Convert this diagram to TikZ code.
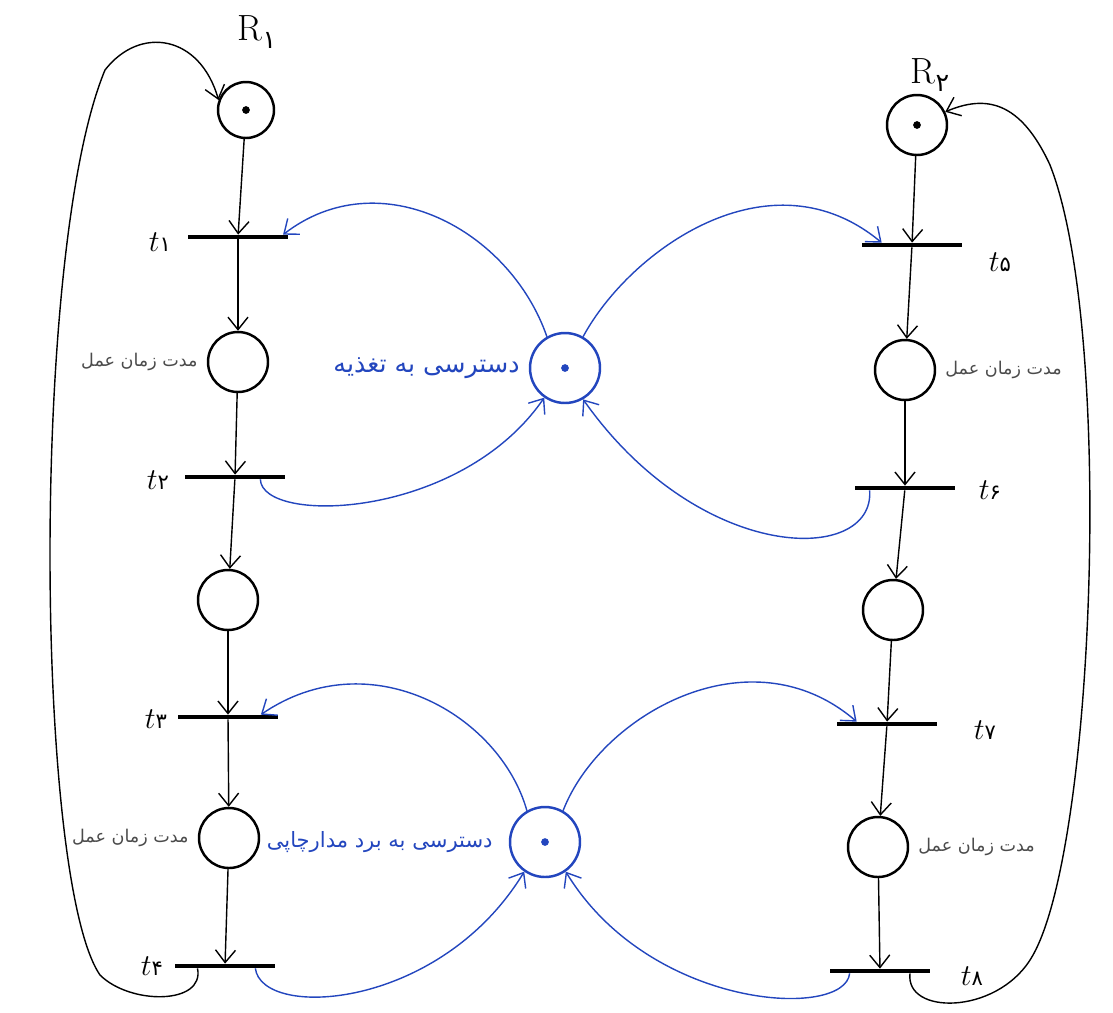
\documentclass[tikz,border=0pt]{standalone}
\usepackage{fontspec}
\newfontfamily\farsi[Script=Arabic]{DejaVu Sans}
\TeXXeTstate=1
\usetikzlibrary{arrows.meta,positioning}
\definecolor{penblue}{RGB}{35,70,190}
\definecolor{pencil}{RGB}{75,75,75}
\tikzset{
  place/.style={draw, circle, line width=1.4pt, minimum size=1.2cm, inner sep=0},
  res/.style={place, draw=penblue, minimum size=1.4cm},
  trans/.style={fill=black, rectangle, minimum width=2cm, minimum height=0.8mm, inner sep=0},
  arc/.style={-{Straight Barb[length=2.5mm,width=4mm]}, line width=0.8pt},
  barc/.style={arc, draw=penblue},
  dur/.style={text=pencil, font={\farsi\normalsize}, inner sep=1pt},
  need/.style={text=penblue, font={\farsi\Large}, inner sep=1pt},
}
\newcommand{\tname}[1]{{\LARGE$t$}{\large\farsi #1}}
\begin{document}
\begin{tikzpicture}[x=0.02cm, y=-0.02cm]
\useasboundingbox (0,0) rectangle (1113,1012);

\node[place, minimum size=1.12cm] (r1) at (246,110) {};
\node[trans] (t1) at (238,237) {};
\node[place] (p2) at (238,362) {};
\node[trans] (t2) at (235,477) {};
\node[place] (p3) at (228,600) {};
\node[trans] (t3) at (228,717) {};
\node[place] (p4) at (229,838) {};
\node[trans] (t4) at (225,966) {};

\node[place] (r2) at (917,125) {};
\node[trans] (t5) at (912,245) {};
\node[place] (p6) at (905,370) {};
\node[trans] (t6) at (905,488) {};
\node[place] (p7) at (893,610) {};
\node[trans] (t7) at (887,724) {};
\node[place] (p8) at (878,847) {};
\node[trans] (t8) at (880,971) {};

\node[res] (s1) at (565,368) {};
\node[res] (s2) at (545,842) {};

\fill (r1) circle (2.2pt);
\fill (r2) circle (2.2pt);
\fill[penblue] (s1) circle (2.2pt);
\fill[penblue] (s2) circle (2.2pt);

\node (lr1) at (257,32) {\huge R\raisebox{-0.5ex}{\Large\farsi ۱}};
\node (lr2) at (930,75) {\huge R\raisebox{-0.5ex}{\Large\farsi ۲}};

\node (l1) at (160,242) {\tname{۱}};
\node (l2) at (158,480) {\tname{۲}};
\node (l3) at (156,719) {\tname{۳}};
\node (l4) at (152,966) {\tname{۴}};
\node (l5) at (1000,262) {\tname{۵}};
\node (l6) at (990,490) {\tname{۶}};
\node (l7) at (985,730) {\tname{۷}};
\node (l8) at (972,976) {\tname{۸}};

\node[dur, left=4pt of p2] (d2) {\beginR مدت زمان عمل\endR};
\node[dur, left=4pt of p4] (d4) {\beginR مدت زمان عمل\endR};
\node[dur, right=4pt of p6] (d6) {\beginR مدت زمان عمل\endR};
\node[dur, right=4pt of p8] (d8) {\beginR مدت زمان عمل\endR};

\node[need, left=4pt of s1] (n1) {\beginR دسترسی به تغذیه\endR};
\node[need, font={\farsi\large}, left=8pt of s2] (n2) {\beginR دسترسی به برد مدارچاپی\endR};

\draw[arc] (r1) -- (t1);
\draw[arc] (t1) -- (p2);
\draw[arc] (p2) -- (t2);
\draw[arc] (t2) -- (p3);
\draw[arc] (p3) -- (t3);
\draw[arc] (t3) -- (p4);
\draw[arc] (p4) -- (t4);
\draw[arc] (r2) -- (t5);
\draw[arc] (t5) -- (p6);
\draw[arc] (p6) -- (t6);
\draw[arc] (t6) -- (p7);
\draw[arc] (p7) -- (t7);
\draw[arc] (t7) -- (p8);
\draw[arc] (p8) -- (t8);

\draw[arc] ([xshift=-0.55cm]t4.south) .. controls (205,1005) and (130,1005) .. (100,975)
  .. controls (35,880) and (30,250) .. (105,70)
  .. controls (140,25) and (200,35) .. (r1.160);
\draw[arc] ([xshift=0.6cm]t8.south) .. controls (905,1015) and (995,1015) .. (1030,960)
  .. controls (1095,860) and (1115,330) .. (1050,165)
  .. controls (1020,100) and (985,95) .. (r2.25);

\draw[barc] (s1.120) .. controls (510,230) and (380,160) .. ([xshift=-3pt]t1.north east);
\draw[barc] (s1.60) .. controls (630,250) and (770,150) .. ([xshift=0.4cm]t5.north west);
\draw[barc] ([xshift=-0.5cm]t2.south east) .. controls (262,525) and (460,520) .. (s1.235);
\draw[barc] ([xshift=0.3cm]t6.south west) .. controls (875,565) and (700,565) .. (s1.-60);

\draw[barc] (s2.120) .. controls (500,715) and (370,640) .. ([xshift=-0.35cm]t3.north east);
\draw[barc] (s2.60) .. controls (600,715) and (750,630) .. ([xshift=0.4cm]t7.north west);
\draw[barc] ([xshift=-0.4cm]t4.south east) .. controls (262,1020) and (440,1010) .. (s2.235);
\draw[barc] ([xshift=0.4cm]t8.south west) .. controls (845,1020) and (650,1010) .. (s2.-55);
\end{tikzpicture}
\end{document}
